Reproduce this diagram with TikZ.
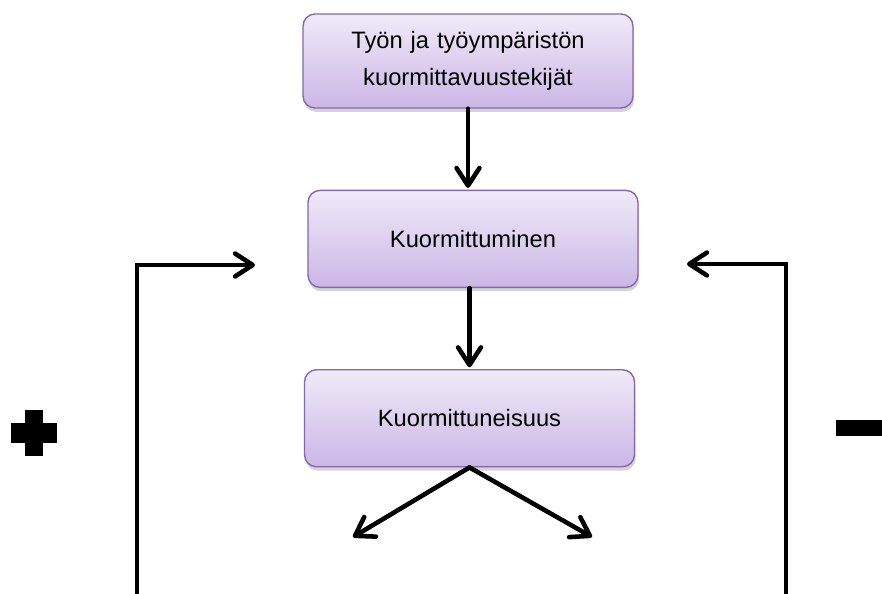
\documentclass[tikz,border=0pt]{standalone}
\usepackage{fontspec}
\setmainfont{Liberation Sans}
\usepackage{tikz}
\usetikzlibrary{positioning, shadows, arrows.meta}

\definecolor{boxtop}{HTML}{F0EAF8}
\definecolor{boxbottom}{HTML}{CBB7E6}
\definecolor{boxline}{HTML}{8766B0}

\begin{document}
\begin{tikzpicture}[x=0.02cm, y=-0.02cm, node distance=1.62cm]
\tikzstyle{stage} = [rectangle, rounded corners=0.24cm, minimum width=6.6cm, minimum height=1.94cm, text centered, text width=6.3cm, draw=boxline, line width=0.8pt, top color=boxtop, bottom color=boxbottom, font=\fontsize{13.5}{21}\selectfont, drop shadow={shadow xshift=0.6pt, shadow yshift=-2.2pt, opacity=0.35}]
\tikzstyle{arrow} = [draw, line width=2.6pt, line cap=round, -{Straight Barb[length=10pt, width=13pt, line cap=round, line join=round]}]
\tikzstyle{loop} = [draw, line width=2.6pt, -{Straight Barb[length=10pt, width=13pt, line cap=round, line join=round]}]

\useasboundingbox (0,0) rectangle (882,594);

\node (load) [stage, minimum height=1.88cm] at (468,61) {Työn ja työympäristön\\kuormittavuustekijät};
\node (loading) [stage, below=of load, xshift=0.1cm] {Kuormittuminen};
\node (strain) [stage, below=of loading, xshift=-0.07cm] {Kuormittuneisuus};

% feedback loops
\coordinate (leftbottom) at (137,600);
\coordinate (lefttip) at (255,265);
\coordinate (rightbottom) at (786,600);
\coordinate (righttip) at (687,264);

% outcomes
\coordinate (outleft) at (353,537);
\coordinate (outright) at (592,537);

\draw [arrow, shorten >=1pt] (load) -- (load |- loading.north);
\draw [arrow, shorten >=1pt] (loading.south -| strain) -- (strain);
\draw [loop] (leftbottom) |- (lefttip);
\draw [loop] (rightbottom) |- (righttip);
\draw [arrow] (strain.south) -- (outleft);
\draw [arrow] (strain.south) -- (outright);

% plus and minus
\fill (25,410) rectangle (43,456);
\fill (11,423) rectangle (57,443);
\fill (836,420) rectangle (884,436);

\end{tikzpicture}
\end{document}
